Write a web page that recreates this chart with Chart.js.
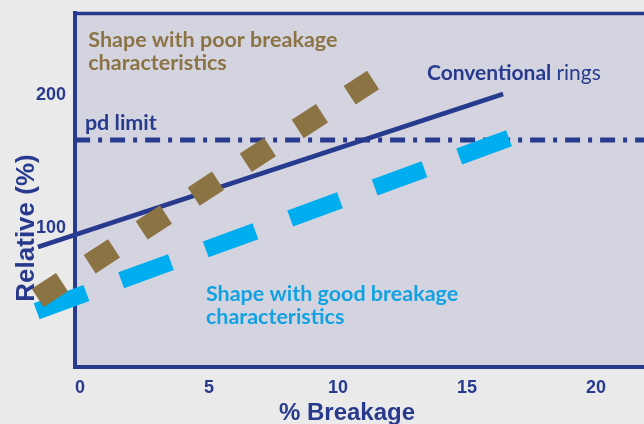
<!DOCTYPE html>
<html>
<head>
<meta charset="utf-8">
<script src="https://cdn.jsdelivr.net/npm/chart.js@4.4.1/dist/chart.umd.min.js"></script>
<style>
  html, body { margin: 0; padding: 0; background: #eaeaea; }
  canvas { display: block; }
</style>
</head>
<body>
<canvas id="chart" width="644" height="424"></canvas>
<script>
// Values (x = % breakage, y = relative %)
const conventionalX = [-1.63, 16.4];
const conventionalY = [85.5, 200.9];
const poorX = [-1.64, 11.36];
const poorY = [47.1, 211.4];
const goodX = [-1.68, 16.72];
const goodY = [37.0, 168.2];
const pdLimitX = [-0.19, 21.86];
const pdLimitY = [166.2, 166.2];

const xTicks = [0, 5, 10, 15, 20];
const yTicks = [100, 200];

const NAVY = '#283a8e';
const BROWN = '#8b7343';
const CYAN = '#00aeef';
const CYAN_TEXT = '#12a2e2';

function pts(xs, ys) {
    return xs.map((x, i) => ({ x: x, y: ys[i] }));
}

// plot panel background + top frame line
const framePlugin = {
    id: 'frame',
    beforeDraw(chart) {
        const { ctx, chartArea: a } = chart;
        ctx.save();
        ctx.fillStyle = '#d4d4e1';
        ctx.fillRect(a.left, a.top, a.right - a.left, a.bottom - a.top);
        ctx.strokeStyle = NAVY;
        ctx.lineWidth = 3.5;
        ctx.beginPath();
        ctx.moveTo(a.left - 2, a.top + 0.5);
        ctx.lineTo(a.right, a.top + 0.5);
        ctx.stroke();
        ctx.restore();
    }
};

// annotation texts, placed in data coordinates
const notes = [
    { lines: ['Shape with poor breakage', 'characteristics'], x: 0.32, y: [236.6, 219.0], color: BROWN },
    { lines: ['pd limit'], x: 0.19, y: [173.75], color: NAVY },
    { lines: ['Shape with good breakage', 'characteristics'], x: 4.88, y: [44.8, 27.7], color: CYAN_TEXT }
];

const textPlugin = {
    id: 'texts',
    afterDraw(chart) {
        const { ctx } = chart;
        const sx = chart.scales.x, sy = chart.scales.y;
        ctx.save();
        ctx.textBaseline = 'alphabetic';
        ctx.textAlign = 'left';
        ctx.font = 'bold 21.5px Lato';
        notes.forEach(n => {
            ctx.fillStyle = n.color;
            n.lines.forEach((t, i) => {
                ctx.fillText(t, sx.getPixelForValue(n.x), sy.getPixelForValue(n.y[i]));
            });
        });

        // "Conventional rings" (mixed weight)
        const cx = sx.getPixelForValue(13.45), cy = sy.getPixelForValue(211.5);
        ctx.fillStyle = NAVY;
        ctx.font = 'bold 21px Lato';
        ctx.fillText('Conventional', cx, cy);
        const w = ctx.measureText('Conventional ').width;
        ctx.font = '21px Lato';
        ctx.fillText('rings', cx + w, cy);

        // axis titles
        ctx.font = 'bold 24px "Liberation Sans"';
        ctx.textAlign = 'center';
        ctx.fillText('% Breakage', 347, 420);

        ctx.translate(33.5, 228);
        ctx.rotate(-Math.PI / 2);
        ctx.font = 'bold 26px "Liberation Sans"';
        ctx.fillText('Relative (%)', 0, 0);
        ctx.restore();
    }
};

const tickFont = { family: 'Liberation Sans', weight: 'bold', size: 18 };

new Chart(document.getElementById('chart').getContext('2d'), {
    type: 'line',
    data: {
        datasets: [
            {
                label: 'Shape with poor breakage characteristics',
                data: pts(poorX, poorY),
                borderColor: BROWN,
                borderWidth: 22,
                borderDash: [29, 33],
                pointRadius: 0,
                clip: false,
                order: 0
            },
            {
                label: 'Shape with good breakage characteristics',
                data: pts(goodX, goodY),
                borderColor: CYAN,
                borderWidth: 17,
                borderDash: [53, 37],
                pointRadius: 0,
                clip: false,
                order: 1
            },
            {
                label: 'Conventional rings',
                data: pts(conventionalX, conventionalY),
                borderColor: NAVY,
                borderWidth: 4.5,
                pointRadius: 0,
                clip: false,
                order: 2
            },
            {
                label: 'pd limit',
                data: pts(pdLimitX, pdLimitY),
                borderColor: NAVY,
                borderWidth: 5,
                borderDash: [15, 8, 4, 8],
                pointRadius: 0,
                clip: false,
                order: 3
            }
        ]
    },
    options: {
        responsive: false,
        animation: false,
        layout: { padding: { top: 13, left: 0, right: 0, bottom: 0 } },
        plugins: {
            legend: { display: false },
            tooltip: { enabled: false }
        },
        scales: {
            x: {
                type: 'linear',
                min: -0.194,
                max: 21.86,
                grid: { display: false, drawTicks: false },
                border: { display: true, color: NAVY, width: 4 },
                ticks: { color: NAVY, font: tickFont, padding: 10, maxRotation: 0 },
                afterBuildTicks: s => { s.ticks = xTicks.map(v => ({ value: v })); },
                afterFit: s => { s.height = 57; s.paddingLeft = 0; s.paddingRight = 0; }
            },
            y: {
                type: 'linear',
                min: -5,
                max: 262,
                grid: { display: false, drawTicks: false },
                border: { display: true, color: NAVY, width: 4 },
                ticks: { color: NAVY, font: tickFont, padding: 9 },
                afterBuildTicks: s => { s.ticks = yTicks.map(v => ({ value: v })); },
                afterFit: s => { s.width = 75; s.paddingTop = 0; s.paddingBottom = 0; }
            }
        }
    },
    plugins: [framePlugin, textPlugin]
});
</script>
</body>
</html>
